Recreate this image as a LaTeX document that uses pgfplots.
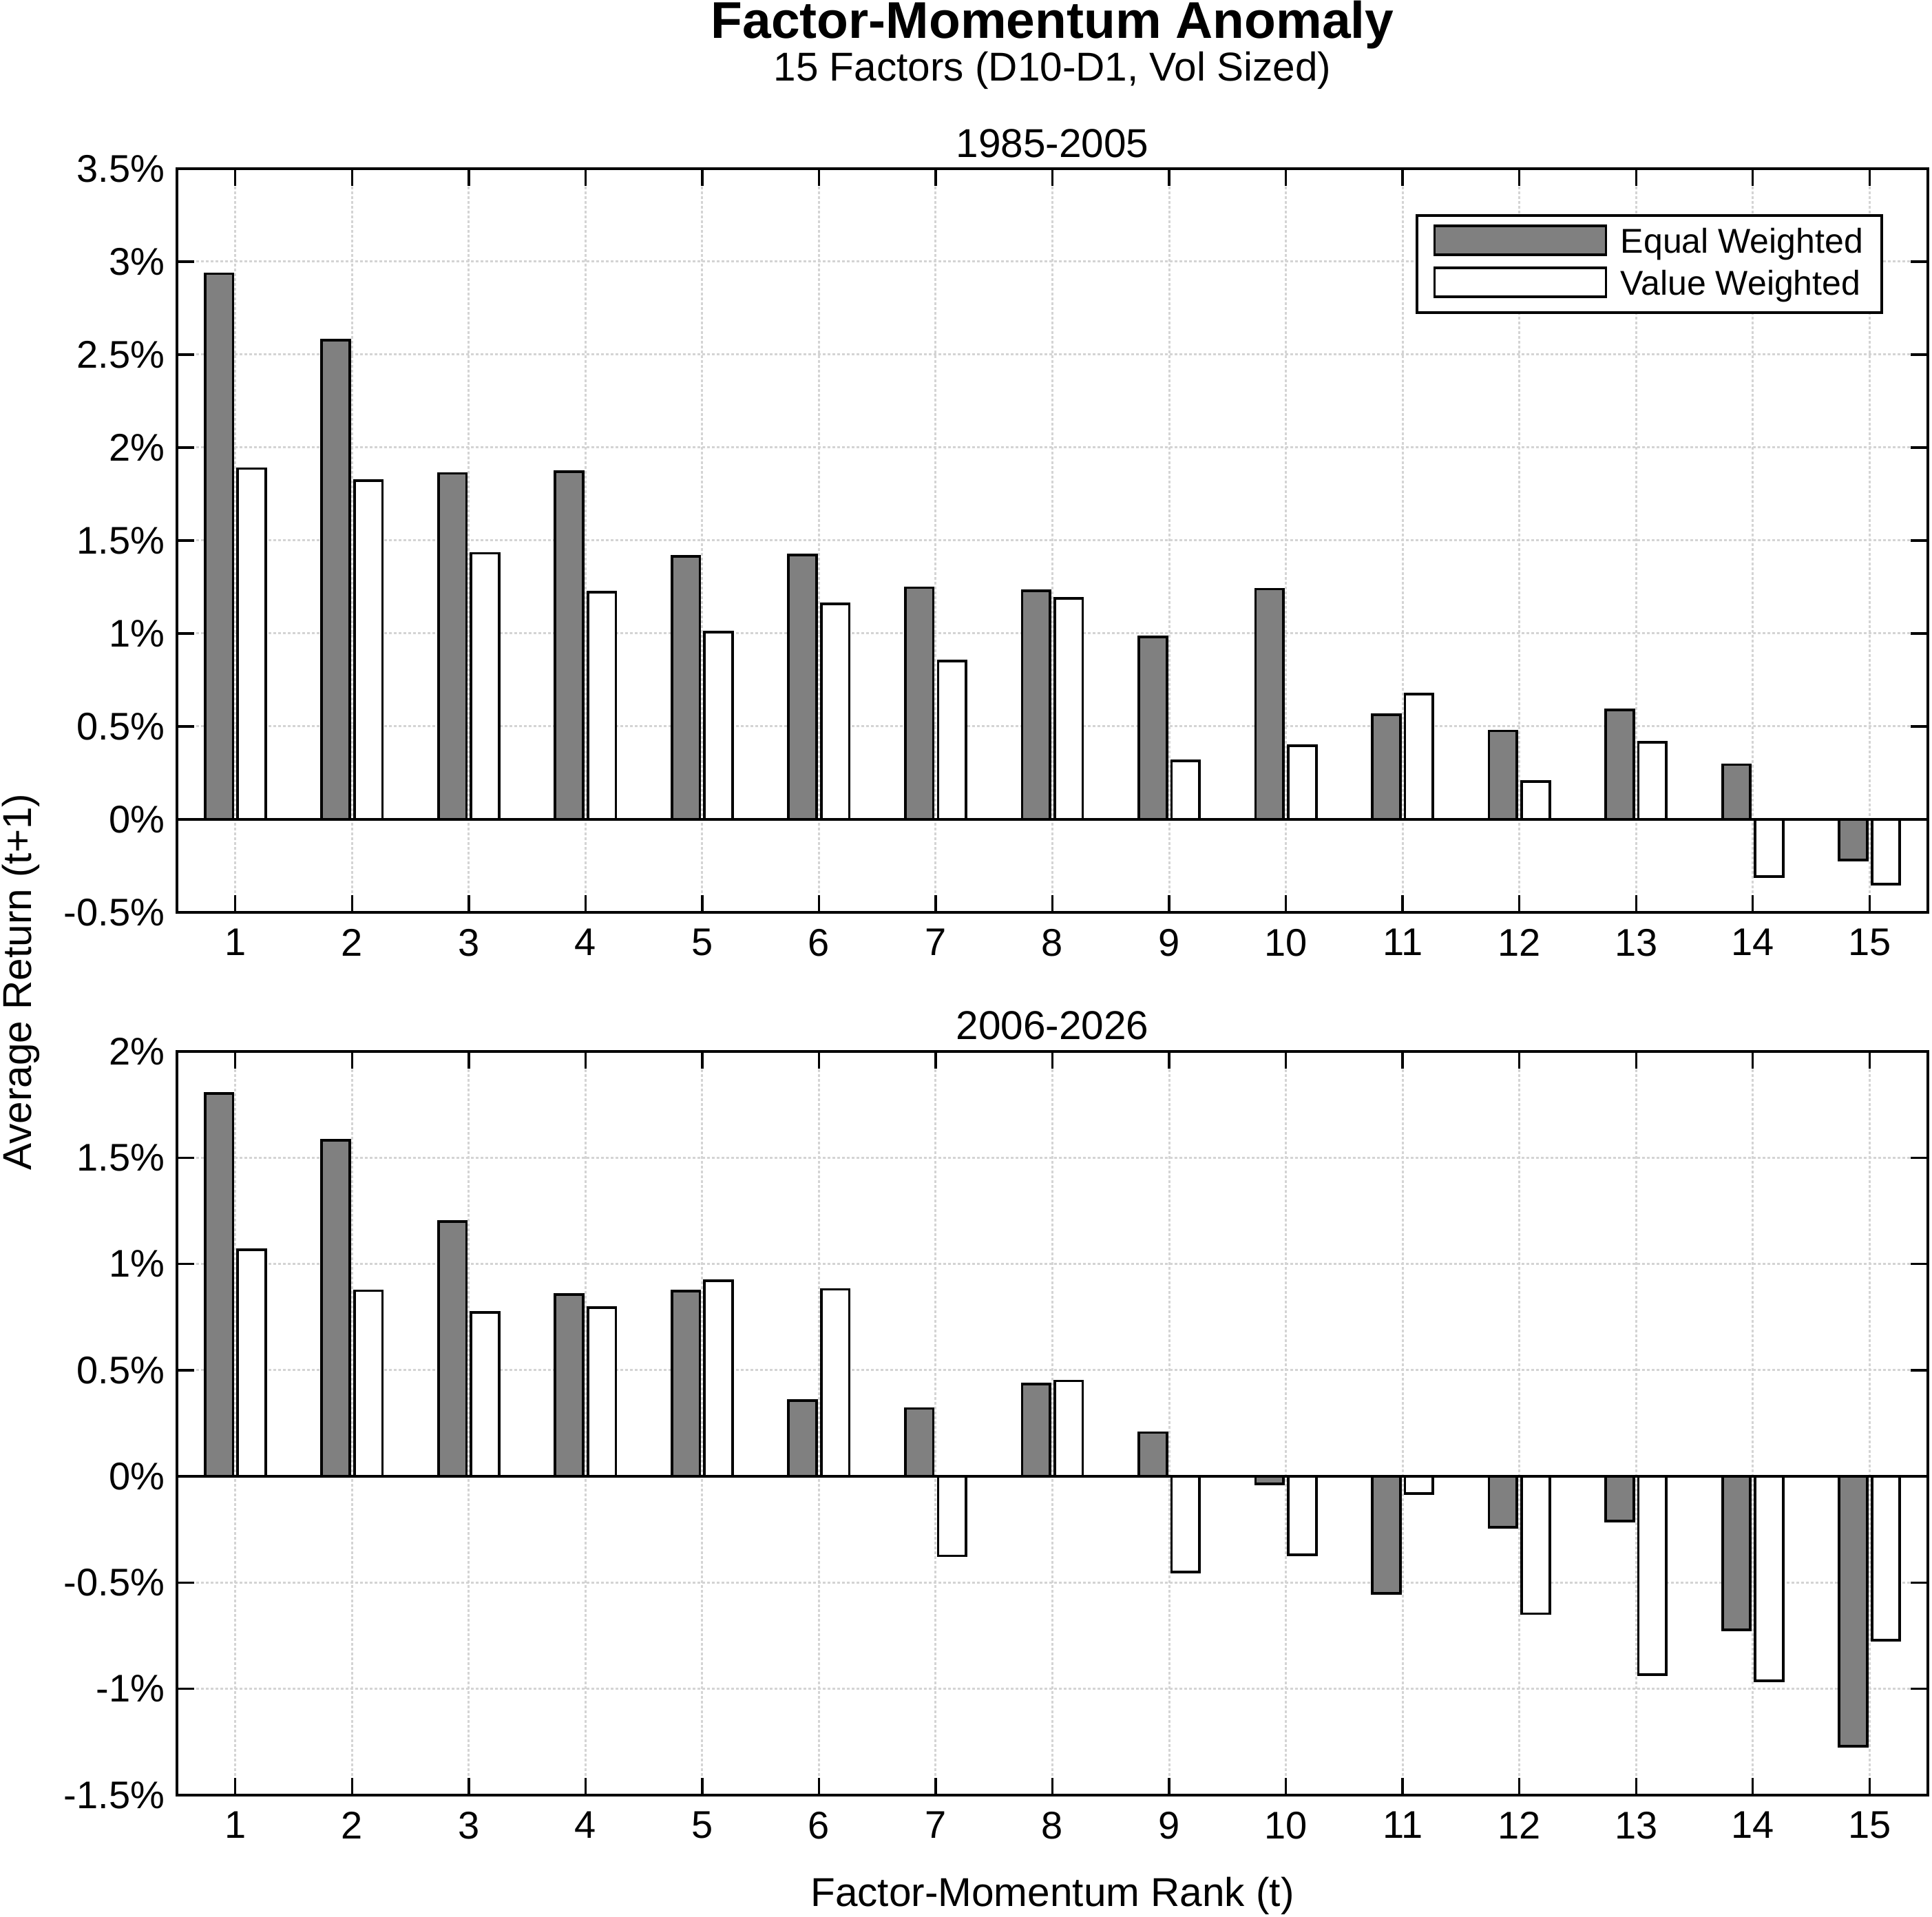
\documentclass[border=0pt]{standalone}
\usepackage{fontspec}
\setmainfont{Liberation Sans}
\usepackage{pgfplots}
\pgfplotsset{compat=1.18}

\definecolor{barg}{RGB}{128,128,128}
\definecolor{gridc}{RGB}{212,212,212}

\newcommand{\tfont}{\fontsize{11.2}{13}\selectfont}
\newcommand{\lfont}{\fontsize{11.7}{14}\selectfont}

\pgfplotsset{
  fm/.style={
    scale only axis, width=508.6pt, height=216pt,
    anchor=south west,
    xmin=0.5, xmax=15.5,
    enlargelimits=false,
    ybar, bar width=0.24,
    xtick={1,2,3,4,5,6,7,8,9,10,11,12,13,14,15},
    xticklabels={1,2,3,4,5,6,7,8,9,10,11,12,13,14,15},
    tick align=inside, xtick pos=both, ytick pos=both,
    major tick length=5pt,
    tick style={black, line width=0.67pt},
    axis line style={black, line width=0.85pt},
    grid=major,
    major grid style={gridc, line width=0.6pt, dash pattern=on 0.85pt off 0.55pt},
    tick label style={font=\tfont},
    xticklabel style={anchor=north, inner sep=0pt, yshift=-4.6pt},
    yticklabel style={anchor=east, inner sep=0pt, xshift=-3.4pt},
  },
  legimg/.style={legend image code/.code={\draw[##1] (0pt,-3.35pt) rectangle (49.8pt,5.15pt);}},
  ew/.style={fill=barg, draw=black, line width=0.75pt, bar shift=-0.14, legimg},
  vw/.style={fill=white, draw=black, line width=0.75pt, bar shift=0.14, legimg},
  zl/.style={sharp plot, black, line width=0.75pt, forget plot, update limits=false},
}

\begin{document}
\begin{tikzpicture}
\useasboundingbox (0,0) rectangle (561.2pt,556.6pt);

\begin{axis}[fm, at={(51.4pt,291.6pt)},
  ymin=-0.5, ymax=3.5,
  ytick={-0.5,0,0.5,1,1.5,2,2.5,3,3.5},
  yticklabels={-0.5\%,0\%,0.5\%,1\%,1.5\%,2\%,2.5\%,3\%,3.5\%},
  legend cell align=left,
  legend style={at={(rel axis cs:1,1)}, anchor=north east, xshift=-13pt, yshift=-13.2pt,
    draw=black, line width=0.8pt, inner xsep=4.7pt, inner ysep=2.6pt, row sep=1.3pt,
    column sep=3.2pt, font=\fontsize{10}{12}\selectfont,
    nodes={inner xsep=0.7pt, inner ysep=1pt}},
]
\addplot[ew] coordinates {(1,2.935) (2,2.578) (3,1.861) (4,1.870) (5,1.414) (6,1.421) (7,1.246) (8,1.229) (9,0.981) (10,1.239) (11,0.562) (12,0.476) (13,0.588) (14,0.294) (15,-0.218)};
\addlegendentry{Equal Weighted}
\addplot[vw] coordinates {(1,1.887) (2,1.821) (3,1.431) (4,1.223) (5,1.008) (6,1.160) (7,0.853) (8,1.190) (9,0.314) (10,0.397) (11,0.674) (12,0.205) (13,0.416) (14,-0.307) (15,-0.347)};
\addlegendentry{Value Weighted}
\addplot[zl] coordinates {(0.5,0) (15.5,0)};
\end{axis}

\begin{axis}[fm, at={(51.4pt,35.2pt)},
  ymin=-1.5, ymax=2,
  ytick={-1.5,-1,-0.5,0,0.5,1,1.5,2},
  yticklabels={-1.5\%,-1\%,-0.5\%,0\%,0.5\%,1\%,1.5\%,2\%},
]
\addplot[ew] coordinates {(1,1.803) (2,1.583) (3,1.200) (4,0.857) (5,0.871) (6,0.357) (7,0.320) (8,0.434) (9,0.206) (10,-0.034) (11,-0.551) (12,-0.240) (13,-0.211) (14,-0.723) (15,-1.269)};
\addplot[vw] coordinates {(1,1.066) (2,0.874) (3,0.771) (4,0.794) (5,0.920) (6,0.880) (7,-0.374) (8,0.449) (9,-0.449) (10,-0.369) (11,-0.080) (12,-0.646) (13,-0.934) (14,-0.963) (15,-0.771)};
\addplot[zl] coordinates {(0.5,0) (15.5,0)};
\end{axis}

\node[anchor=base, inner sep=0pt, font=\bfseries\fontsize{15}{18}\selectfont] at (305.7pt,545.4pt) {Factor-Momentum Anomaly};
\node[anchor=base, inner sep=0pt, font=\lfont] at (305.7pt,533.0pt) {15 Factors (D10-D1, Vol Sized)};
\node[anchor=base, inner sep=0pt, font=\lfont] at (305.7pt,510.8pt) {1985-2005};
\node[anchor=base, inner sep=0pt, font=\lfont] at (305.7pt,254.6pt) {2006-2026};
\node[anchor=base, inner sep=0pt, font=\lfont] at (305.7pt,3.0pt) {Factor-Momentum Rank (t)};
\node[anchor=base, rotate=90, inner sep=0pt, font=\lfont] at (9pt,271.4pt) {Average Return (t+1)};
\end{tikzpicture}
\end{document}
